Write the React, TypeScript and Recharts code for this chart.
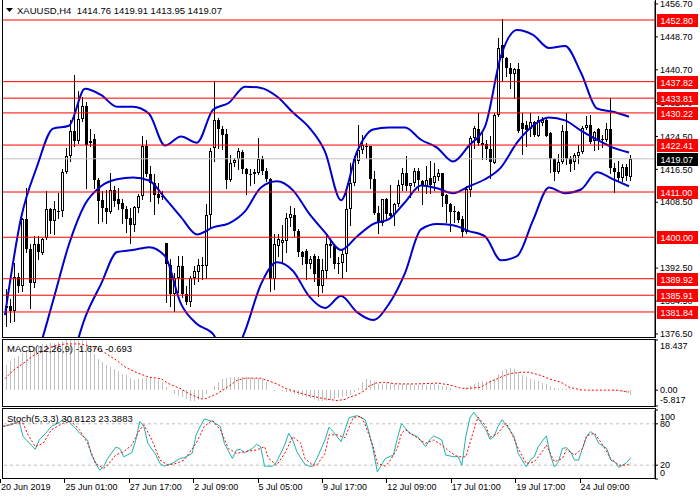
import React from 'react'
import { ComposedChart, Bar, Line, XAxis, YAxis, ReferenceLine } from 'recharts'

/**
 * XAUUSD H4 – MT4 style chart
 * Candles + Bollinger bands + support/resistance levels on top,
 * MACD(12,26,9) and Stochastic(5,3,3) panes underneath.
 * All values were read off a screenshot, so they are approximate.
 */

const FONT = '"Liberation Sans", Arial, sans-serif'
const SLOTS = 163 // 157 candles + empty shift on the right
const LABEL_EVERY = 16
const PRICE_DOMAIN: [number, number] = [1375.76, 1457.42]
const MAIN_MARGIN = { top: 1, right: 0, bottom: 2, left: 3 }

const opens = [
  1382.7, 1383.3, 1382.1, 1390.4, 1388.2, 1404.5, 1397.2, 1389.0, 1398.3, 1396.1,
  1399.9, 1406.8, 1403.9, 1406.5, 1406.4, 1415.9, 1419.7, 1425.8, 1423.3, 1428.7,
  1432.0, 1422.8, 1424.0, 1414.0, 1409.0, 1407.2, 1406.1, 1411.4, 1409.4, 1408.4,
  1406.9, 1404.8, 1402.9, 1407.2, 1410.0, 1422.3, 1415.3, 1413.2, 1410.6, 1410.0,
  1398.5, 1393.2, 1386.2, 1390.2, 1392.9, 1386.2, 1384.2, 1390.2, 1391.6, 1393.0,
  1393.0, 1405.3, 1421.7, 1428.6, 1426.2, 1425.2, 1414.0, 1418.1, 1419.1, 1420.7,
  1416.5, 1415.3, 1415.3, 1415.7, 1418.9, 1416.1, 1414.2, 1389.8, 1397.9, 1398.5,
  1399.1, 1404.8, 1405.3, 1401.5, 1396.4, 1396.7, 1393.5, 1395.5, 1394.7, 1388.2,
  1391.8, 1398.3, 1397.9, 1393.7, 1393.7, 1395.9, 1406.8, 1413.2, 1418.5, 1421.3,
  1422.3, 1422.3, 1414.2, 1405.8, 1403.5, 1409.4, 1406.0, 1405.6, 1408.0, 1412.8,
  1415.7, 1412.4, 1413.1, 1416.1, 1413.7, 1412.4, 1414.5, 1413.2, 1414.7, 1415.5,
  1410.2, 1408.0, 1406.4, 1406.2, 1404.4, 1401.3, 1411.6, 1424.2, 1426.3, 1422.9,
  1422.7, 1421.5, 1418.1, 1429.8, 1446.8, 1443.5, 1441.1, 1439.7, 1440.9, 1427.8,
  1427.4, 1426.2, 1427.9, 1424.7, 1427.8, 1428.4, 1425.3, 1419.1, 1415.8, 1418.3,
  1425.8, 1419.3, 1418.3, 1419.7, 1420.7, 1426.6, 1427.2, 1423.3, 1426.3, 1423.9,
  1423.6, 1426.3, 1416.9, 1415.8, 1414.5, 1417.1, 1414.76,
]

const highs = [
  1387.4, 1384.9, 1393.7, 1391.4, 1404.8, 1412.0, 1398.3, 1400.3, 1400.3, 1399.9,
  1411.2, 1407.2, 1408.8, 1410.8, 1416.5, 1421.7, 1428.6, 1439.5, 1435.5, 1434.2,
  1432.8, 1426.2, 1425.0, 1414.5, 1411.2, 1411.6, 1415.7, 1412.4, 1412.0, 1409.2,
  1407.6, 1407.2, 1407.6, 1410.4, 1424.5, 1423.6, 1417.3, 1415.3, 1413.2, 1411.2,
  1398.7, 1394.6, 1391.4, 1395.5, 1395.5, 1388.2, 1390.6, 1393.0, 1394.7, 1395.1,
  1408.0, 1421.7, 1437.9, 1429.0, 1427.0, 1426.2, 1420.1, 1419.3, 1421.7, 1421.3,
  1416.9, 1416.5, 1416.5, 1424.1, 1419.7, 1416.9, 1414.5, 1400.7, 1400.7, 1403.0,
  1406.0, 1407.6, 1407.2, 1401.9, 1396.7, 1397.1, 1395.5, 1395.9, 1395.5, 1394.7,
  1400.3, 1399.1, 1398.3, 1395.1, 1397.1, 1411.6, 1418.1, 1419.7, 1427.4, 1424.9,
  1422.9, 1422.3, 1416.1, 1407.6, 1409.4, 1409.6, 1412.6, 1408.4, 1414.0, 1416.9,
  1419.7, 1413.2, 1416.9, 1416.9, 1414.0, 1417.3, 1418.5, 1418.1, 1416.5, 1415.7,
  1410.4, 1408.4, 1407.6, 1406.4, 1405.2, 1412.4, 1424.6, 1427.0, 1430.2, 1425.4,
  1423.7, 1424.6, 1430.2, 1448.4, 1453.0, 1443.9, 1442.3, 1441.1, 1442.3, 1430.2,
  1428.2, 1430.2, 1428.2, 1429.4, 1429.2, 1428.8, 1425.5, 1419.3, 1420.3, 1427.4,
  1430.2, 1419.7, 1420.5, 1422.5, 1427.0, 1429.4, 1429.6, 1425.8, 1426.6, 1424.9,
  1427.8, 1433.8, 1418.1, 1418.5, 1417.9, 1417.9, 1419.91,
]

const lows = [
  1378.5, 1379.3, 1379.7, 1386.6, 1387.0, 1396.3, 1382.7, 1387.8, 1394.7, 1395.9,
  1399.5, 1401.1, 1400.9, 1404.8, 1405.2, 1415.7, 1418.5, 1422.1, 1422.9, 1428.2,
  1412.0, 1422.1, 1412.0, 1403.5, 1404.0, 1403.5, 1406.0, 1407.6, 1406.8, 1403.5,
  1401.3, 1398.7, 1401.5, 1406.1, 1409.4, 1414.9, 1408.8, 1405.6, 1408.4, 1409.2,
  1384.2, 1383.4, 1382.1, 1386.6, 1385.4, 1383.8, 1383.4, 1388.6, 1389.4, 1389.8,
  1390.2, 1402.3, 1418.5, 1421.7, 1421.5, 1412.0, 1413.6, 1417.3, 1416.5, 1415.7,
  1410.4, 1412.6, 1413.2, 1415.3, 1415.3, 1413.6, 1387.0, 1387.4, 1395.5, 1393.8,
  1396.3, 1402.7, 1400.3, 1395.5, 1393.5, 1389.8, 1392.6, 1389.4, 1385.8, 1386.6,
  1390.2, 1395.1, 1392.6, 1391.4, 1390.2, 1391.8, 1403.1, 1412.8, 1418.1, 1420.5,
  1419.3, 1412.0, 1405.6, 1401.1, 1403.1, 1404.4, 1404.8, 1403.1, 1407.6, 1411.6,
  1411.6, 1409.9, 1412.4, 1411.6, 1408.0, 1410.8, 1410.8, 1411.6, 1414.0, 1407.6,
  1403.6, 1401.5, 1403.6, 1403.6, 1400.3, 1401.1, 1410.0, 1421.7, 1422.5, 1418.9,
  1418.9, 1414.5, 1418.1, 1429.4, 1437.9, 1439.1, 1436.3, 1433.8, 1425.5, 1420.3,
  1422.1, 1424.6, 1424.5, 1424.5, 1427.4, 1424.5, 1415.8, 1414.0, 1415.7, 1418.1,
  1417.7, 1416.1, 1416.5, 1418.1, 1420.5, 1426.3, 1423.0, 1421.3, 1421.5, 1422.0,
  1423.3, 1415.7, 1411.0, 1413.7, 1413.7, 1413.9, 1413.95,
]

const closes = [
  1383.3, 1382.1, 1390.4, 1388.2, 1404.5, 1397.1, 1389.0, 1398.3, 1396.3, 1399.5,
  1406.8, 1403.9, 1406.8, 1406.2, 1415.9, 1419.7, 1425.8, 1423.3, 1428.7, 1432.0,
  1422.5, 1423.5, 1414.0, 1408.8, 1407.2, 1406.1, 1411.6, 1408.8, 1408.0, 1406.8,
  1404.5, 1403.0, 1407.3, 1410.0, 1422.3, 1415.3, 1413.2, 1410.2, 1409.6, 1409.7,
  1393.5, 1386.2, 1390.2, 1393.0, 1386.2, 1384.2, 1390.2, 1391.8, 1393.2, 1393.2,
  1405.3, 1420.9, 1428.6, 1426.2, 1424.9, 1414.0, 1418.1, 1418.7, 1421.0, 1416.5,
  1415.3, 1415.2, 1415.9, 1418.9, 1416.1, 1414.2, 1389.8, 1398.3, 1399.5, 1399.3,
  1404.8, 1405.6, 1401.5, 1396.4, 1395.3, 1393.5, 1394.7, 1391.0, 1388.2, 1392.1,
  1398.3, 1397.9, 1393.5, 1393.5, 1395.9, 1406.8, 1413.2, 1418.9, 1421.3, 1422.5,
  1422.2, 1414.2, 1405.8, 1403.5, 1409.2, 1405.6, 1405.2, 1408.0, 1412.8, 1415.7,
  1412.4, 1413.1, 1416.1, 1414.0, 1412.4, 1414.0, 1412.8, 1414.9, 1415.5, 1410.0,
  1408.0, 1406.1, 1406.2, 1404.2, 1401.3, 1411.8, 1424.2, 1426.6, 1422.9, 1422.5,
  1421.5, 1418.3, 1429.6, 1446.0, 1443.5, 1441.1, 1439.7, 1440.9, 1425.8, 1426.2,
  1426.0, 1427.9, 1424.9, 1428.6, 1428.6, 1424.7, 1419.1, 1415.8, 1418.3, 1425.8,
  1419.1, 1417.7, 1420.1, 1420.7, 1426.6, 1427.2, 1423.1, 1425.5, 1423.7, 1423.6,
  1426.3, 1416.9, 1415.8, 1414.5, 1417.1, 1414.9, 1419.07,
]

// Bollinger bands, read every 4th bar: [bar, price]
const bbUpper: [number, number][] = [
  [0, 1381.1], [4, 1404.6], [8, 1417.2], [12, 1426.4], [16, 1427.1], [20, 1436.1], [24, 1434.6], [28, 1431.7],
  [32, 1431.7], [36, 1430.0], [40, 1422.3], [44, 1424.5], [48, 1423.0], [52, 1431.0], [56, 1432.7], [60, 1436.6],
  [64, 1436.3], [68, 1434.2], [72, 1430.3], [76, 1426.7], [80, 1420.8], [84, 1409.0], [88, 1420.8], [92, 1426.2],
  [96, 1426.7], [100, 1426.7], [104, 1423.7], [108, 1421.8], [112, 1418.4], [116, 1422.3], [120, 1426.9], [124, 1444.1],
  [128, 1450.4], [132, 1449.2], [136, 1446.0], [140, 1446.5], [144, 1440.0], [148, 1431.3], [152, 1430.5], [156, 1429.3],
]
const bbMiddle: [number, number][] = [
  [0, 1360.7], [4, 1364.4], [8, 1371.4], [12, 1384.5], [16, 1398.3], [20, 1408.0], [24, 1412.4], [28, 1414.1],
  [32, 1414.5], [36, 1413.8], [40, 1409.5], [44, 1404.9], [48, 1400.7], [52, 1402.4], [56, 1403.4], [60, 1406.3],
  [64, 1412.1], [68, 1413.6], [72, 1411.4], [76, 1405.8], [80, 1401.2], [84, 1396.9], [88, 1400.2], [92, 1403.2],
  [96, 1404.4], [100, 1408.5], [104, 1412.6], [108, 1411.9], [112, 1410.7], [116, 1412.4], [120, 1414.1], [124, 1417.0],
  [128, 1423.0], [132, 1427.1], [136, 1429.1], [140, 1428.4], [144, 1425.9], [148, 1423.7], [152, 1421.8], [156, 1420.6],
]
const bbLower: [number, number][] = [
  [0, 1343.8], [4, 1346.2], [8, 1351.1], [12, 1358.3], [16, 1368.0], [20, 1380.4], [24, 1388.6], [28, 1396.4],
  [32, 1396.9], [36, 1397.6], [40, 1395.4], [44, 1383.8], [48, 1378.9], [52, 1376.5], [56, 1369.2], [60, 1377.2],
  [64, 1388.6], [68, 1393.9], [72, 1391.8], [76, 1385.7], [80, 1382.8], [84, 1385.7], [88, 1381.8], [92, 1379.9],
  [96, 1383.8], [100, 1391.3], [104, 1401.9], [108, 1403.2], [112, 1402.9], [116, 1401.5], [120, 1400.2], [124, 1394.4],
  [128, 1395.4], [132, 1404.1], [136, 1412.1], [140, 1410.7], [144, 1411.6], [148, 1415.8], [152, 1414.1], [156, 1412.4],
]

// MACD main (histogram), one value per bar
const macdMain = [
  9.1, 10.9, 11.8, 12.7, 13.7, 14.6, 15.2, 15.8, 16.4, 16.8,
  17.0, 17.3, 17.5, 17.6, 17.9, 18.3, 18.4, 18.4, 18.3, 18.4,
  18.1, 16.4, 13.4, 11.5, 10.3, 9.3, 8.5, 7.6, 6.9, 6.1,
  5.4, 4.5, 3.9, 4.2, 4.5, 4.4, 4.4, 4.2, 3.6, 2.9,
  1.1, -0.1, -1.3, -2.0, -2.6, -3.2, -3.8, -3.8, -3.6, -2.9,
  -1.5, -0.1, 1.5, 2.9, 4.2, 4.4, 4.7, 4.7, 4.8, 4.8,
  4.8, 4.7, 4.5, 4.4, 4.2, 2.9, 0.2, -0.2, 0.1, -0.2,
  -0.5, -0.7, -1.3, -1.7, -2.2, -2.6, -2.9, -3.4, -3.8, -4.0,
  -3.9, -3.7, -3.4, -2.9, -2.6, -2.0, -1.7, -0.7, 0.7, 2.9,
  4.2, 3.9, 3.2, 2.3, 2.3, 2.6, 2.6, 2.3, 2.0, 2.3,
  2.3, 2.2, 2.0, 2.0, 2.1, 2.0, 2.3, 2.2, 2.0, 1.7,
  1.5, 0.7, 0.2, 0.0, 0.2, 0.7, 1.7, 2.3, 2.9, 3.2,
  3.2, 3.6, 4.2, 6.0, 7.2, 7.8, 8.2, 7.8, 6.6, 5.4,
  4.8, 4.2, 3.8, 3.2, 2.7, 2.3, 1.5, 0.7, 0.5, 0.5,
  0.5, 0.4, 0.2, 0.2, 0.1, 0.0, 0.0, -0.1, 0.0, -0.1,
  -0.1, -0.1, -0.3, -0.4, -0.8, -1.2, -1.676,
]

// MACD signal, vertices of the dotted line: [bar, value]
const macdSignal: [number, number][] = [
  [0, 4.2], [2, 7.2], [5, 10.3], [7, 12.7], [10, 14.6], [12, 16.2], [15, 17.0], [19, 17.0], [21, 16.2], [24, 14.6],
  [28, 10.9], [30, 8.5], [33, 6.4], [36, 4.8], [39, 4.2], [41, 2.3], [44, 0.5], [46, -1.3], [49, -3.2], [50, -3.2],
  [53, -1.3], [55, 0.5], [58, 3.6], [60, 4.4], [64, 4.4], [65, 3.9], [68, 2.3], [70, 0.7], [73, -0.7], [76, -2.0],
  [80, -3.2], [83, -3.8], [85, -3.4], [86, -2.6], [88, -1.7], [90, -0.1], [91, 1.5], [93, 2.7], [95, 2.9], [98, 2.3],
  [103, 2.3], [108, 2.6], [111, 2.0], [114, 0.7], [116, 0.7], [119, 1.1], [121, 2.9], [124, 4.8], [126, 6.0], [129, 6.6],
  [131, 6.6], [134, 5.4], [136, 4.2], [139, 2.9], [141, 1.1], [144, 0.1], [146, 0.0], [153, 0.0], [155, -0.5], [156, -0.693],
]

// Stochastic %K and %D vertices: [bar, value]
const stochMain: [number, number][] = [
  [0, 76.2], [2, 78.6], [4, 83.5], [5, 61.5], [7, 49.3], [8, 43.0], [9, 56.6], [11, 68.8], [12, 76.2], [14, 82.0],
  [15, 86.9], [16, 85.0], [18, 73.7], [19, 66.4], [21, 56.6], [22, 34.7], [24, 12.7], [25, 17.6], [26, 29.8], [28, 45.9],
  [29, 44.4], [30, 32.2], [32, 38.1], [33, 56.6], [34, 83.5], [35, 76.2], [36, 51.8], [38, 34.7], [39, 22.5], [40, 18.6],
  [42, 22.5], [44, 29.8], [45, 30.8], [47, 37.1], [48, 64.0], [49, 76.2], [50, 86.9], [52, 83.5], [54, 76.2], [55, 51.8],
  [57, 29.8], [58, 42.0], [59, 43.0], [60, 38.1], [62, 44.4], [63, 50.3], [64, 46.9], [65, 18.6], [67, 18.6], [68, 24.9],
  [70, 49.3], [71, 66.4], [72, 56.6], [73, 39.6], [75, 21.5], [76, 18.6], [77, 18.6], [78, 29.8], [80, 56.6], [81, 75.2],
  [82, 68.8], [84, 54.2], [85, 71.3], [86, 89.0], [88, 91.8], [90, 85.9], [91, 66.4], [92, 42.0], [93, 10.3], [94, 20.1],
  [95, 29.8], [97, 34.7], [98, 59.1], [99, 80.1], [100, 73.7], [101, 66.4], [103, 61.5], [105, 46.9], [106, 56.6], [107, 62.5],
  [109, 56.6], [110, 34.7], [112, 32.2], [113, 33.0], [114, 20.1], [115, 61.5], [116, 88.4], [117, 96.7], [118, 88.4], [120, 71.3],
  [121, 57.6], [122, 61.5], [123, 76.2], [124, 85.9], [125, 78.6], [127, 61.5], [128, 37.1], [130, 17.6], [131, 27.4], [132, 32.2],
  [133, 46.9], [135, 62.5], [136, 34.7], [137, 17.6], [138, 24.9], [139, 44.4], [140, 45.4], [141, 39.6], [142, 27.4], [143, 27.4],
  [145, 61.5], [146, 68.8], [147, 64.0], [148, 51.8], [150, 44.4], [151, 27.4], [152, 24.9], [153, 16.6], [154, 20.1], [155, 24.0],
  [156, 30.81],
]
const stochSignal: [number, number][] = [
  [0, 76.2], [3, 81.0], [5, 81.0], [6, 66.4], [8, 46.9], [10, 51.8], [12, 71.3], [15, 81.0], [17, 83.5], [19, 71.3],
  [21, 51.8], [23, 22.5], [25, 15.2], [26, 20.1], [28, 34.7], [30, 39.6], [32, 49.3], [34, 71.3], [35, 78.6], [37, 56.6],
  [39, 27.4], [41, 20.1], [43, 22.5], [45, 27.4], [48, 51.8], [50, 76.2], [52, 85.0], [54, 71.3], [56, 44.4], [58, 37.1],
  [60, 39.6], [63, 42.0], [65, 46.9], [66, 29.8], [68, 20.1], [70, 37.1], [72, 61.5], [74, 51.8], [75, 29.8], [77, 20.1],
  [78, 20.1], [80, 37.1], [81, 64.0], [83, 64.0], [85, 60.0], [86, 75.0], [87, 89.0], [89, 90.8], [90, 78.6], [92, 46.9],
  [93, 22.5], [95, 18.6], [96, 24.9], [98, 44.4], [99, 66.4], [100, 71.3], [103, 59.1], [105, 51.8], [107, 56.6], [109, 49.3],
  [111, 39.6], [113, 32.2], [115, 32.2], [117, 71.3], [118, 89.8], [120, 76.2], [121, 60.6], [123, 66.4], [125, 81.0], [126, 71.3],
  [128, 44.4], [130, 22.5], [132, 24.9], [134, 39.6], [135, 49.3], [137, 24.9], [139, 29.8], [140, 43.0], [142, 34.7], [144, 44.4],
  [145, 62.5], [147, 66.4], [149, 49.3], [151, 29.8], [153, 20.1], [155, 20.1], [156, 23.39],
]

const levels = [1452.8, 1437.82, 1433.81, 1430.22, 1422.41, 1411.0, 1400.0, 1389.92, 1385.91, 1381.84]
const lastPrice = 1419.07
const priceTicks = [1456.7, 1448.7, 1440.7, 1432.7, 1424.5, 1416.5, 1408.5, 1392.5, 1384.5, 1376.5]
const macdTicks = [18.437, 0, -5.817]
const stochTicks = [100, 80, 20, 0]
const timeLabels = [
  '20 Jun 2019', '25 Jun 01:00', '27 Jun 17:00', '2 Jul 09:00', '5 Jul 05:00',
  '9 Jul 17:00', '12 Jul 09:00', '17 Jul 01:00', '19 Jul 17:00', '24 Jul 09:00',
]

type Row = { [k: string]: number | undefined }

const rows: Row[] = Array.from({ length: SLOTS }, (_, i) => ({
  i,
  o: opens[i],
  h: highs[i],
  l: lows[i],
  c: closes[i],
  hist: macdMain[i],
}))
const put = (pts: [number, number][], key: string) => pts.forEach(([i, v]) => { rows[i][key] = v })
put(bbUpper, 'bbU')
put(bbMiddle, 'bbM')
put(bbLower, 'bbL')
put(macdSignal, 'sig')
put(stochMain, 'k')
put(stochSignal, 'd')

const candleRange = (r: Row) => (r.h == null ? null : [r.l, r.h])

function Candle(props: any) {
  const { x, y, width, height, payload } = props
  if (payload.h == null || x == null) return null
  const top = Math.min(y, y + height)
  const span = Math.abs(height)
  const range = payload.h - payload.l
  const py = (v: number) => (range > 0 ? top + ((payload.h - v) / range) * span : top)
  const cx = Math.round(x + width / 2)
  const yo = py(payload.o)
  const yc = py(payload.c)
  const bTop = Math.round(Math.min(yo, yc))
  const bBot = Math.round(Math.max(yo, yc))
  const up = payload.c >= payload.o
  let body
  if (bBot - bTop < 2) body = <rect x={cx - 1} y={bTop} width={3} height={1} fill="#000" />
  else if (up) body = <rect x={cx - 0.5} y={bTop + 0.5} width={2} height={bBot - bTop - 1} fill="#fff" stroke="#000" />
  else body = <rect x={cx - 1} y={bTop} width={3} height={bBot - bTop} fill="#000" />
  return (
    <g shapeRendering="crispEdges">
      <line x1={cx + 0.5} x2={cx + 0.5} y1={Math.round(top)} y2={Math.round(top + span) + 1} stroke="#000" />
      {body}
    </g>
  )
}

function HistBar(props: any) {
  const { x, y, width, height } = props
  if (x == null || !height) return null
  const cx = Math.round(x + width / 2) + 0.5
  const y1 = Math.min(y, y + height)
  const y2 = Math.max(y, y + height)
  return <line x1={cx} x2={cx} y1={y1} y2={y2} stroke="#C0C0C0" shapeRendering="crispEdges" />
}

function Tag({ viewBox, text, bg }: any) {
  if (!viewBox) return null
  const y = Math.round(viewBox.y)
  const x = viewBox.x + viewBox.width + 2
  return (
    <g>
      <rect x={x} y={y - 6} width={41} height={13} fill={bg} />
      <text x={x + 3.5} y={y + 0.5} dy="0.355em" fontSize={9} fill="#fff" fontFamily={FONT}>{text}</text>
    </g>
  )
}

const axisText = (shift: Record<string, number>, fmt: (v: number) => string) =>
  function AxisTick({ x, y, payload }: any) {
    const dy = shift[String(payload.value)] || 0
    return (
      <text x={x} y={y + dy} dy="0.355em" fontSize={9} fill="#000" fontFamily={FONT}>{fmt(payload.value)}</text>
    )
  }

function TimeTick({ x, y, payload }: any) {
  const idx = payload.value
  if (idx % LABEL_EVERY) return null
  const text = timeLabels[idx / LABEL_EVERY]
  if (!text) return null
  const base = y - 5
  return (
    <g>
      <line x1={x - 2.5} x2={x - 2.5} y1={base} y2={base + 4} stroke="#000" shapeRendering="crispEdges" />
      <text x={x - 2} y={y} dy="0.71em" fontSize={9} fill="#000" fontFamily={FONT}>{text}</text>
    </g>
  )
}

const frame = (top: number, height: number): React.CSSProperties => ({
  position: 'absolute', left: 2, top, width: 654, height, border: '1px solid #000',
  boxSizing: 'border-box', pointerEvents: 'none',
})

const label = (left: number, top: number, size = 9.5): React.CSSProperties => ({
  position: 'absolute', left, top, fontSize: size, lineHeight: '11px', whiteSpace: 'nowrap', color: '#000',
})

const layer: React.CSSProperties = { position: 'absolute', left: 0, top: 0 }

export default function App() {
  return (
    <div style={{ position: 'absolute', left: 0, top: 0, width: 700, height: 500, background: '#fff', fontFamily: FONT, overflow: 'hidden' }}>
      {/* price pane: candles and bands */}
      <div style={layer}>
        <ComposedChart width={700} height={339} data={rows} margin={MAIN_MARGIN}>
          <XAxis dataKey="i" hide />
          <YAxis
            orientation="right"
            width={45}
            domain={PRICE_DOMAIN}
            allowDataOverflow
            ticks={priceTicks}
            interval={0}
            tickSize={3}
            tickMargin={2}
            stroke="#000"
            tick={axisText({}, (v) => v.toFixed(2))}
          />
          <ReferenceLine y={lastPrice} stroke="#C0C0C0" />
          <Bar dataKey={candleRange as any} barSize={3} shape={<Candle />} isAnimationActive={false} />
          <Line type="monotone" dataKey="bbU" stroke="#0000CD" strokeWidth={2} dot={false} connectNulls isAnimationActive={false} />
          <Line type="monotone" dataKey="bbM" stroke="#0000CD" strokeWidth={2} dot={false} connectNulls isAnimationActive={false} />
          <Line type="monotone" dataKey="bbL" stroke="#0000CD" strokeWidth={2} dot={false} connectNulls isAnimationActive={false} />
        </ComposedChart>
      </div>

      {/* price pane overlay: horizontal levels and their price tags above the axis labels */}
      <div style={layer}>
        <ComposedChart width={700} height={339} data={rows} margin={MAIN_MARGIN}>
          <XAxis dataKey="i" hide />
          <YAxis orientation="right" width={45} domain={PRICE_DOMAIN} allowDataOverflow tick={false} tickLine={false} axisLine={false} />
          <ReferenceLine y={lastPrice} stroke="none" label={<Tag text={lastPrice.toFixed(2)} bg="#000" />} />
          {levels.map((v) => (
            <ReferenceLine key={v} y={v} stroke="#FF0000" label={<Tag text={v.toFixed(2)} bg="#FF0000" />} />
          ))}
        </ComposedChart>
      </div>

      {/* MACD pane */}
      <div style={{ position: 'absolute', left: 0, top: 339 }}>
        <ComposedChart width={700} height={68} data={rows} margin={{ top: 1, right: 0, bottom: 1, left: 3 }}>
          <XAxis dataKey="i" hide />
          <YAxis
            orientation="right"
            width={45}
            domain={[-5.817, 18.437]}
            allowDataOverflow
            ticks={macdTicks}
            interval={0}
            tickSize={3}
            tickMargin={2}
            stroke="#000"
            tick={axisText({ '18.437': 6, '-5.817': -6 }, (v) => (v === 0 ? '0.00' : v.toFixed(3)))}
          />
          <Bar dataKey="hist" barSize={1} shape={<HistBar />} isAnimationActive={false} />
          <Line dataKey="sig" stroke="#FF0000" strokeWidth={1} strokeDasharray="2 2" dot={false} connectNulls isAnimationActive={false} />
        </ComposedChart>
      </div>

      {/* Stochastic pane */}
      <div style={{ position: 'absolute', left: 0, top: 408 }}>
        <ComposedChart width={700} height={92} data={rows} margin={{ top: 2, right: 0, bottom: 0, left: 3 }}>
          <XAxis
            dataKey="i"
            height={21}
            interval={0}
            tickSize={3}
            tickMargin={2}
            tickLine={false}
            axisLine={false}
            tick={TimeTick}
          />
          <YAxis
            orientation="right"
            width={45}
            domain={[0, 100]}
            ticks={stochTicks}
            interval={0}
            tickSize={3}
            tickMargin={2}
            stroke="#000"
            tick={axisText({ '100': 7, '0': -6 }, (v) => String(v))}
          />
          <ReferenceLine y={80} stroke="#C0C0C0" strokeDasharray="3 3" />
          <ReferenceLine y={20} stroke="#C0C0C0" strokeDasharray="3 3" />
          <Line dataKey="k" stroke="#20B2AA" strokeWidth={1} dot={false} connectNulls isAnimationActive={false} />
          <Line dataKey="d" stroke="#FF0000" strokeWidth={1} strokeDasharray="2 2" dot={false} connectNulls isAnimationActive={false} />
        </ComposedChart>
      </div>

      {/* pane frames */}
      <div style={frame(-1, 339)} />
      <div style={frame(339, 68)} />
      <div style={frame(408, 71)} />

      {/* texts */}
      <svg style={{ position: 'absolute', left: 6, top: 8 }} width={8} height={6}>
        <polygon points="0,0 7,0 3.5,4" fill="#000" />
      </svg>
      <div style={label(17, 5)}>XAUUSD,H4&nbsp; 1414.76 1419.91 1413.95 1419.07</div>
      <div style={label(7, 343)}>MACD(12,26,9) -1.676 -0.693</div>
      <div style={label(7, 413)}>Stoch(5,3,3) 30.8123 23.3883</div>
    </div>
  )
}
